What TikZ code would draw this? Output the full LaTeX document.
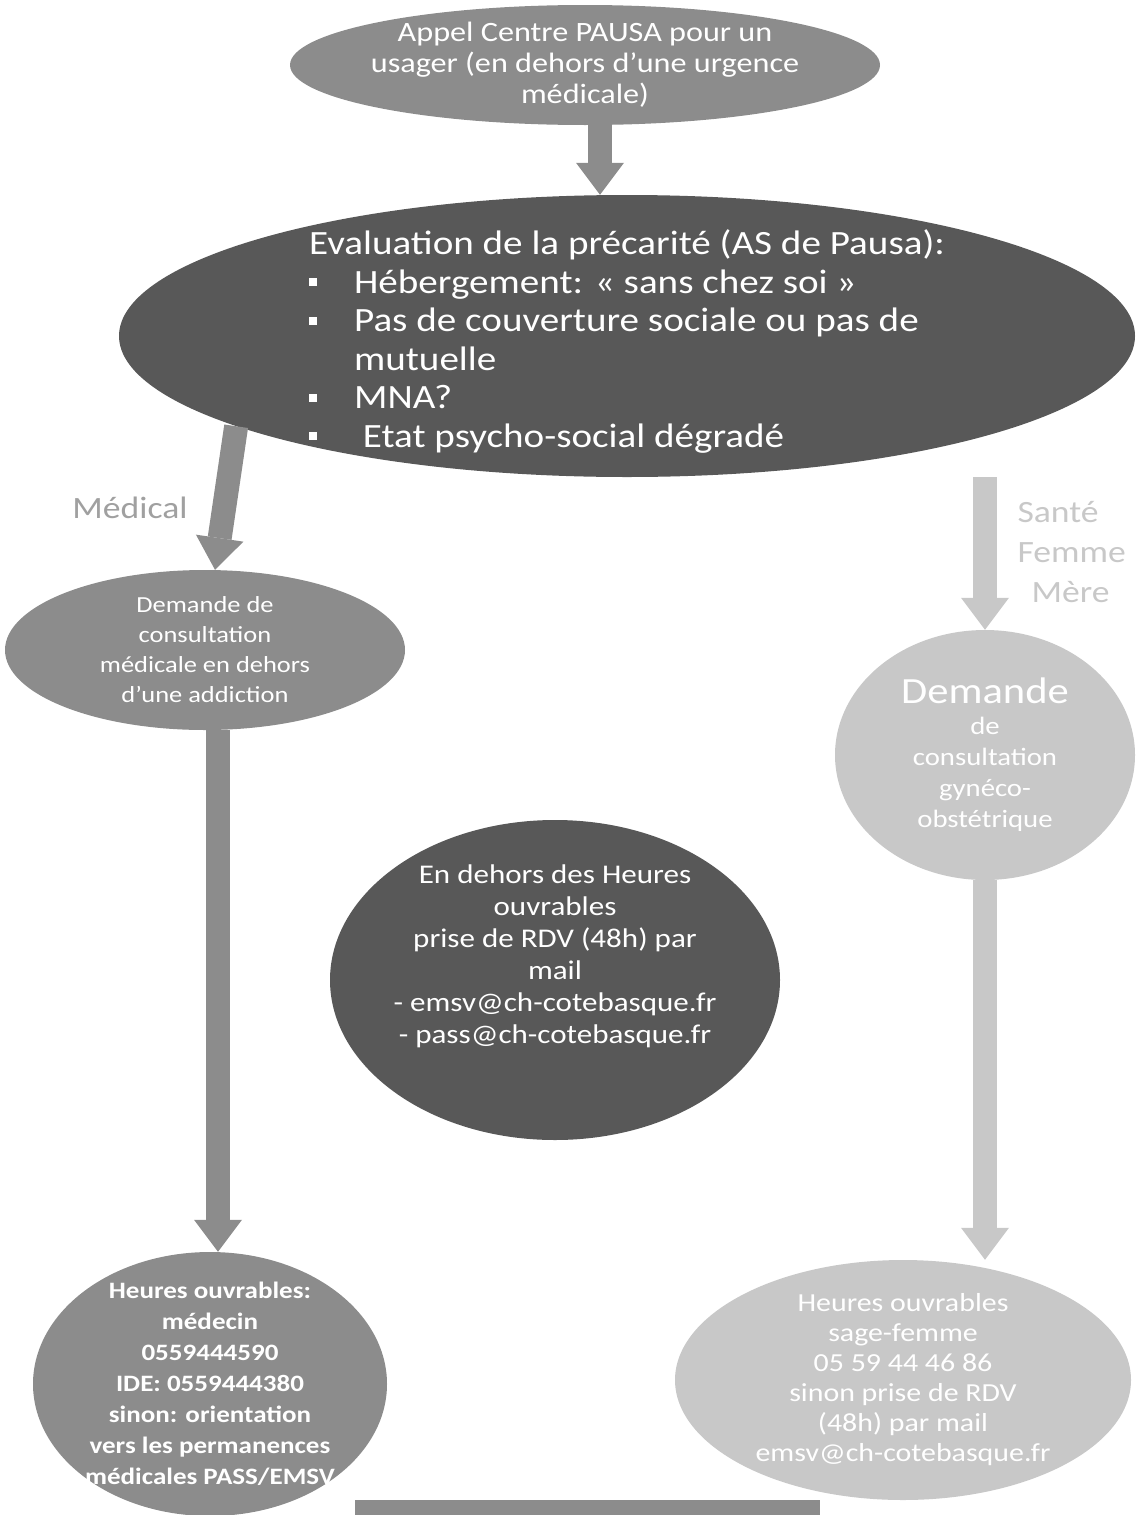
\documentclass[tikz,border=0pt]{standalone}
\usepackage{fontspec}
\setmainfont{Carlito}[FakeStretch=1.15]
\usetikzlibrary{positioning, arrows.meta, shapes.geometric}
\definecolor{toneDark}{RGB}{88, 88, 88}
\definecolor{toneMid}{RGB}{140, 140, 140}
\definecolor{toneLight}{RGB}{200, 200, 200}
\definecolor{toneLabel}{RGB}{160, 160, 160}
\newcommand{\sqb}{\makebox[45pt][l]{\raisebox{7pt}{\rule{8pt}{8pt}}}}

\begin{document}
\begin{tikzpicture}[x=1pt, y=-1pt,
    bubble/.style={ellipse, inner sep=-200pt, text=white, align=center},
    flow/.style={line width=24pt, -{Triangle[width=48pt, length=32pt, line width=0pt]}}]
  \useasboundingbox (0,0) rectangle (1139,1515);

  % top of the chart
  \node[bubble, fill=toneMid, minimum width=590pt, minimum height=120pt,
        font=\fontsize{28}{31}\selectfont] (appel) at (585,65)
        {Appel Centre PAUSA pour un\\usager (en dehors d'une urgence\\médicale)};
  \node[bubble, fill=toneDark, minimum width=1016pt, minimum height=282pt,
        align=left, font=\fontsize{34}{38.5}\selectfont] (eval) at (627,336)
        {\rule{0pt}{36pt}Evaluation de la précarité (AS de Pausa):\\
         \sqb Hébergement: « sans chez soi »\\
         \sqb Pas de couverture sociale ou pas de\\
         \hspace*{45pt}mutuelle\\
         \sqb MNA?\\
         \sqb\ Etat psycho-social dégradé};

  % the two branches
  \node[bubble, fill=toneMid, minimum width=400pt, minimum height=160pt,
        font=\fontsize{23}{30}\selectfont] (demMed) at (205,650)
        {Demande de\\consultation\\médicale en dehors\\d'une addiction};
  \node[bubble, fill=toneLight, minimum width=300pt, minimum height=250pt,
        font=\fontsize{25}{31}\selectfont] (demSF) at (985,755)
        {{\fontsize{37}{38}\selectfont Demande}\\de\\consultation\\gynéco-\\obstétrique};
  \node[bubble, fill=toneDark, minimum width=450pt, minimum height=320pt,
        font=\fontsize{27}{32}\selectfont] (horsHO) at (555,980)
        {En dehors des Heures\\ouvrables\\prise de RDV (48h) par\\mail\\- emsv@ch-cotebasque.fr\\- pass@ch-cotebasque.fr\rule[-52pt]{0pt}{1pt}};
  \node[bubble, fill=toneMid, minimum width=354pt, minimum height=264pt,
        font=\bfseries\fontsize{23.5}{31}\selectfont] (hoMed) at (210,1384)
        {Heures ouvrables:\\médecin\\0559444590\\IDE: 0559444380\\sinon: orientation\\vers les permanences\\médicales PASS/EMSV};
  \node[bubble, fill=toneLight, minimum width=456pt, minimum height=240pt,
        font=\fontsize{26}{30}\selectfont] (hoSF) at (903,1380)
        {Heures ouvrables\\sage-femme\\05 59 44 46 86\\sinon prise de RDV\\(48h) par mail\\emsv@ch-cotebasque.fr};

  % labels of the branches
  \node[text=toneLabel, font=\fontsize{31}{34}\selectfont] (medLbl) at (130,508) {Médical};
  \node[text=toneLight, align=left, anchor=north west,
        font=\fontsize{31}{40}\selectfont] (sfLbl) at (1014,498)
        {Santé\\Femme\\\hspace*{14pt}Mère};

  \coordinate (topArr) at (600,0);
  \coordinate (leftArr) at (218,0);
  \draw[flow, toneMid] (appel.south -| topArr) -- (eval.north -| topArr);
  \draw[flow, toneMid] (eval.193) -- ([xshift=10pt]demMed.north);
  \draw[flow, toneLight] (demSF.north |- eval.south) -- (demSF.north);
  \draw[flow, toneMid] (demMed.south -| leftArr) -- (hoMed.north -| leftArr);
  \draw[flow, toneLight] (demSF.south) -- (demSF.south |- hoSF.north);

  \fill[toneMid] (355,1500) rectangle (820,1515);
\end{tikzpicture}
\end{document}
